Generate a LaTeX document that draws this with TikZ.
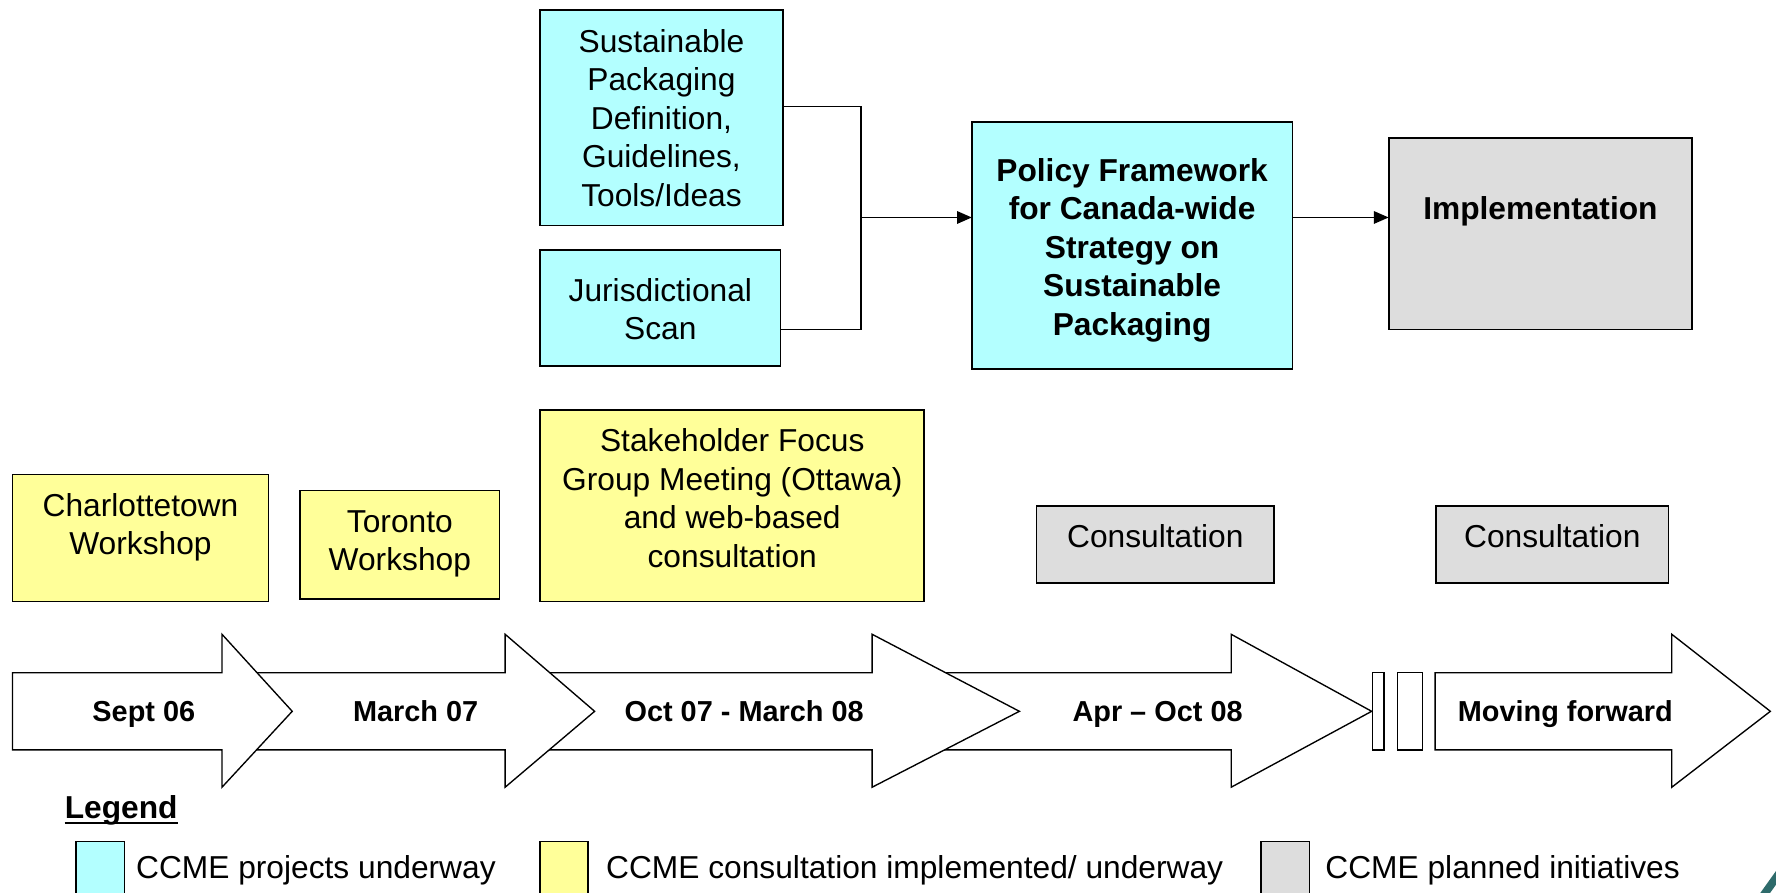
\documentclass[tikz,border=0pt]{standalone}
\usepackage{fontspec}
\setmainfont{Liberation Sans}
\usetikzlibrary{arrows.meta}
\definecolor{cyanbox}{RGB}{179,255,255}
\definecolor{yellowbox}{RGB}{255,255,153}
\definecolor{graybox}{RGB}{221,221,221}
\definecolor{tealdeco}{RGB}{46,107,107}
\newcommand\timearrow[3]{%
  \path[tarrow] (#1,594) -- (#2,594) -- (#2,560) -- (#3,628) -- (#2,695) -- (#2,662) -- (#1,662) -- cycle;}
\begin{document}
\begin{tikzpicture}[x=1pt,y=-1pt,
  box/.style={draw=black, line width=1.5pt, inner sep=0pt, outer sep=0pt},
  cbox/.style={box, fill=cyanbox},
  ybox/.style={box, fill=yellowbox},
  gbox/.style={box, fill=graybox},
  txt/.style={font=\fontsize{28}{34}\selectfont, align=center, inner sep=0pt},
  btxt/.style={font=\fontsize{28}{34}\selectfont\bfseries, align=center, inner sep=0pt},
  tl/.style={font=\fontsize{25.5}{30}\selectfont\bfseries, inner sep=0pt, anchor=base},
  tarrow/.style={draw=black, fill=white, line width=1.2pt, line join=miter},
  conn/.style={draw=black, line width=1.4pt},
  arr/.style={conn, -{Triangle[length=13pt,width=11pt]}},
]
\useasboundingbox (0,0) rectangle (1568,788);
\clip (0,0) rectangle (1568,788);
\fill[white] (0,0) rectangle (1568,788);

% top row
\node[cbox, minimum width=214pt, minimum height=190pt] (sp) at (584,104) {};
\node[txt] (sptext) at (584,104) {Sustainable\\Packaging\\Definition,\\Guidelines,\\Tools/Ideas};
\node[cbox, minimum width=212pt, minimum height=102pt] (js) at (583,272) {};
\node[txt] (jstext) at (583,273) {Jurisdictional\\Scan};
\node[cbox, minimum width=283pt, minimum height=218pt] (pol) at (999.5,217) {};
\node[btxt] (poltext) at (999.5,221) {Policy Framework\\for Canada-wide\\Strategy on\\Sustainable\\Packaging};
\node[gbox, minimum width=268pt, minimum height=169pt] (impl) at (1360,206.5) {};
\node[btxt, anchor=base] (impltext) at (1360,194) {Implementation};

\coordinate (jt) at (760,94);
\coordinate (jb) at (760,291);
\coordinate (j) at (760,192);
\draw[conn] (sp.east |- jt) -- (jt) -- (jb) -- (js.east |- jb);
\draw[arr] (j) -- (pol.west |- j);
\draw[arr] (pol.east |- j) -- (impl.west |- j);

% middle row
\node[ybox, minimum width=226pt, minimum height=112pt] (ch) at (124,475) {};
\node[txt] (chtext) at (124,465.5) {Charlottetown\\Workshop};
\node[ybox, minimum width=176pt, minimum height=96pt] (to) at (353,481) {};
\node[txt] (totext) at (353,480) {Toronto\\Workshop};
\node[ybox, minimum width=339pt, minimum height=169pt] (st) at (646.5,446.5) {};
\node[txt] (sttext) at (646.5,440) {Stakeholder Focus\\Group Meeting (Ottawa)\\and web-based\\consultation};
\node[gbox, minimum width=210pt, minimum height=68pt] (c1) at (1020,481) {};
\node[txt, anchor=base] (c1text) at (1020,483) {Consultation};
\node[gbox, minimum width=205pt, minimum height=68pt] (c2) at (1370.5,481) {};
\node[txt, anchor=base] (c2text) at (1370.5,483) {Consultation};

% timeline
\timearrow{770}{1087}{1211}
\timearrow{446}{770}{900}
\timearrow{196}{446}{525}
\timearrow{11}{196}{258}
\path[tarrow] (1212,594) rectangle (1222,662);
\path[tarrow] (1234,594) rectangle (1256,662);
\timearrow{1267}{1476}{1563}
\node[tl] (t1) at (127,637) {Sept 06};
\node[tl] (t2) at (367,637) {March 07};
\node[tl] (t3) at (657,637) {Oct 07 - March 08};
\node[tl] (t4) at (1022,637) {Apr – Oct 08};
\node[tl] (t5) at (1382,637) {Moving forward};

% legend
\node[btxt, anchor=base] (leg) at (107,723) {Legend};
\draw[line width=2.2pt] ([yshift=-3.5pt]leg.base west) -- ([yshift=-3.5pt]leg.base east);
\node[box, fill=cyanbox, minimum width=43pt, minimum height=52pt, anchor=north west] (lg1) at (67,743) {};
\node[txt, anchor=base west] (lt1) at (120,776) {CCME projects underway};
\node[box, fill=yellowbox, minimum width=42pt, minimum height=52pt, anchor=north west] (lg2) at (477,743) {};
\node[txt, anchor=base west] (lt2) at (535,776) {CCME consultation implemented/ underway};
\node[box, fill=graybox, minimum width=43pt, minimum height=52pt, anchor=north west] (lg3) at (1113,743) {};
\node[txt, anchor=base west] (lt3) at (1170,776) {CCME planned initiatives};

% corner decoration
\draw[tealdeco, line width=7pt] (1553,796) -- (1573,768);
\end{tikzpicture}
\end{document}
